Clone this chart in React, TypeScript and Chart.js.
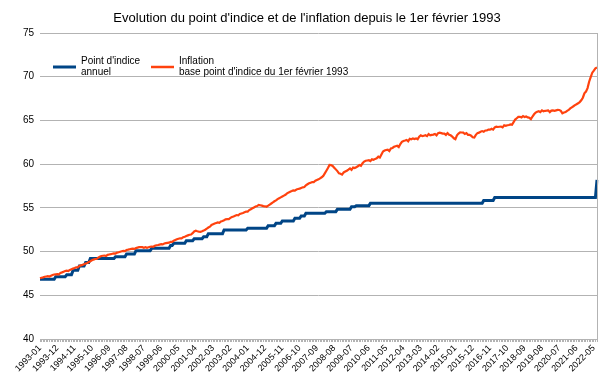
import React, { useEffect, useRef } from "react";
import { Chart, registerables } from "chart.js";

Chart.register(...registerables);

const TITLE = "Evolution du point d'indice et de l'inflation depuis le 1er février 1993";
const SERIES_POINT = ["Point d'indice", "annuel"];
const SERIES_INFL = ["Inflation", "base point d'indice du 1er février 1993"];

const FIRST_YEAR = 1993;
const MONTH_COUNT = 355; // 1993-01 .. 2022-07
const LABEL_STEP = 11;

const Y_TICKS = [40, 45, 50, 55, 60, 65, 70, 75];

// Point d'indice annuel: value changes (month, value)
const pointChangeMonths = [
  "1993-01", "1993-11", "1994-06", "1994-10", "1995-02", "1995-06", "1995-09",
  "1997-01", "1997-08", "1998-02", "1998-12", "1999-12", "2000-02", "2000-10",
  "2001-03", "2001-09", "2001-12", "2002-10", "2004-01", "2005-02", "2005-07",
  "2005-11", "2006-07", "2006-11", "2007-02", "2008-03", "2008-10", "2009-07",
  "2009-10", "2010-07", "2016-07", "2017-02", "2022-07",
];
const pointChangeValues = [
  46.83, 47.13, 47.35, 47.85, 48.35, 48.75, 49.2,
  49.41, 49.72, 50.1, 50.37, 50.7, 50.95, 51.24,
  51.47, 51.7, 52.05, 52.47, 52.66, 52.96, 53.23,
  53.5, 53.8, 54.07, 54.38, 54.56, 54.83, 55.13,
  55.25, 55.52, 55.85, 56.18, 58.19,
];

// Inflation (base point d'indice du 1er février 1993), monthly
const inflation = [
  46.94, 47.0, 47.05, 47.12, 47.15, 47.18, 47.15, 47.24, 47.32, 47.38, 47.4, 47.42, // 1993
  47.4, 47.55, 47.62, 47.7, 47.78, 47.81, 47.78, 47.9, 47.98, 48.05, 48.12, 48.2, // 1994
  48.2, 48.35, 48.42, 48.48, 48.55, 48.63, 48.7, 48.8, 48.9, 49.0, 49.08, 49.15, // 1995
  49.15, 49.3, 49.4, 49.49, 49.52, 49.55, 49.5, 49.62, 49.66, 49.7, 49.75, 49.8, // 1996
  49.78, 49.88, 49.92, 49.98, 50.03, 50.08, 50.05, 50.18, 50.22, 50.27, 50.3, 50.33, // 1997
  50.3, 50.4, 50.45, 50.5, 50.52, 50.5, 50.44, 50.5, 50.44, 50.5, 50.55, 50.58, // 1998
  50.55, 50.66, 50.72, 50.75, 50.8, 50.84, 50.82, 50.92, 50.96, 51.0, 51.02, 51.1, // 1999
  51.1, 51.24, 51.32, 51.4, 51.46, 51.52, 51.5, 51.64, 51.7, 51.78, 51.85, 51.92, // 2000
  51.95, 52.1, 52.3, 52.38, 52.32, 52.28, 52.25, 52.32, 52.4, 52.5, 52.62, 52.75, // 2001
  52.85, 53.04, 53.12, 53.2, 53.27, 53.33, 53.3, 53.45, 53.5, 53.58, 53.69, 53.72, // 2002
  53.72, 53.85, 53.95, 54.02, 54.1, 54.18, 54.15, 54.3, 54.36, 54.42, 54.5, 54.58, // 2003
  54.58, 54.75, 54.85, 54.95, 55.05, 55.15, 55.2, 55.33, 55.3, 55.25, 55.2, 55.18, // 2004
  55.13, 55.25, 55.38, 55.5, 55.62, 55.75, 55.85, 56.0, 56.1, 56.2, 56.3, 56.4, // 2005
  56.5, 56.66, 56.75, 56.85, 56.92, 57.0, 56.98, 57.1, 57.15, 57.2, 57.28, 57.35, // 2006
  57.38, 57.58, 57.7, 57.81, 57.88, 57.95, 57.95, 58.1, 58.18, 58.26, 58.38, 58.5, // 2007
  58.65, 58.95, 59.25, 59.55, 59.9, 59.88, 59.8, 59.6, 59.4, 59.2, 58.95, 58.9, // 2008
  58.8, 59.05, 59.15, 59.25, 59.38, 59.52, 59.35, 59.6, 59.55, 59.65, 59.75, 59.9, // 2009
  59.8, 60.1, 60.3, 60.39, 60.42, 60.45, 60.35, 60.55, 60.5, 60.6, 60.66, 60.85, // 2010
  60.75, 61.1, 61.45, 61.55, 61.62, 61.65, 61.5, 61.8, 61.85, 61.98, 62.05, 62.1, // 2011
  61.95, 62.3, 62.55, 62.65, 62.7, 62.76, 62.6, 62.9, 62.85, 62.95, 62.88, 62.95, // 2012
  62.85, 63.15, 63.3, 63.2, 63.25, 63.3, 63.2, 63.45, 63.3, 63.35, 63.38, 63.45, // 2013
  63.3, 63.55, 63.6, 63.55, 63.5, 63.5, 63.35, 63.55, 63.35, 63.3, 63.15, 62.96, // 2014
  62.85, 63.3, 63.5, 63.64, 63.62, 63.6, 63.45, 63.55, 63.35, 63.35, 63.25, 63.07, // 2015
  63.05, 63.35, 63.55, 63.6, 63.71, 63.78, 63.7, 63.85, 63.85, 63.95, 63.95, 64.05, // 2016
  63.95, 64.2, 64.28, 64.25, 64.28, 64.3, 64.2, 64.45, 64.38, 64.45, 64.48, 64.55, // 2017
  64.5, 64.8, 65.1, 65.25, 65.4, 65.42, 65.35, 65.5, 65.38, 65.45, 65.35, 65.3, // 2018
  65.15, 65.45, 65.7, 65.9, 66.0, 66.05, 65.95, 66.15, 66.05, 66.1, 66.12, 66.15, // 2019
  65.95, 66.12, 66.15, 66.1, 66.15, 66.2, 66.19, 66.1, 65.81, 65.9, 65.95, 66.1, // 2020
  66.2, 66.38, 66.5, 66.62, 66.75, 66.85, 66.96, 67.1, 67.3, 67.6, 68.1, 68.3, // 2021
  68.7, 69.43, 69.95, 70.46, 70.7, 70.96, 71.05, // 2022
];

const BLUE = "#004586";
const ORANGE = "#ff420e";
const GRID = "#b3b3b3";
const FONT = "'Liberation Sans', Arial, sans-serif";

const months: string[] = [];
for (let i = 0; i < MONTH_COUNT; i++) {
  const y = FIRST_YEAR + Math.floor(i / 12);
  const m = (i % 12) + 1;
  months.push(`${y}-${m < 10 ? "0" + m : m}`);
}

// carry each point value forward until the next change
const pointSeries: number[] = months.map((mo) => {
  let v = pointChangeValues[0];
  for (let k = 0; k < pointChangeMonths.length; k++) {
    if (pointChangeMonths[k] <= mo) v = pointChangeValues[k];
  }
  return v;
});

const decorPlugin = {
  id: "decor",
  afterDraw(chart: any) {
    const { ctx, chartArea, width } = chart;
    ctx.save();
    // right border of the plot area
    ctx.strokeStyle = GRID;
    ctx.lineWidth = 1;
    ctx.beginPath();
    ctx.moveTo(Math.round(chartArea.right) + 0.5, chartArea.top);
    ctx.lineTo(Math.round(chartArea.right) + 0.5, chartArea.bottom);
    ctx.stroke();

    // title, centred on the whole picture
    ctx.fillStyle = "#000";
    ctx.font = `13px ${FONT}`;
    ctx.textAlign = "center";
    ctx.textBaseline = "middle";
    ctx.fillText(TITLE, width / 2, 18);

    // legend
    ctx.font = `10px ${FONT}`;
    ctx.textAlign = "left";
    const items = [
      { color: BLUE, width: 3, x: 53, lines: SERIES_POINT },
      { color: ORANGE, width: 2.5, x: 151, lines: SERIES_INFL },
    ];
    for (const it of items) {
      ctx.strokeStyle = it.color;
      ctx.lineWidth = it.width;
      ctx.beginPath();
      ctx.moveTo(it.x, 67);
      ctx.lineTo(it.x + 23, 67);
      ctx.stroke();
      ctx.fillText(it.lines[0], it.x + 28, 61);
      ctx.fillText(it.lines[1], it.x + 28, 72);
    }
    ctx.restore();
  },
};

export default function App() {
  const ref = useRef<HTMLCanvasElement | null>(null);
  useEffect(() => {
    if (!ref.current) return;
    const chart = new Chart(ref.current, {
      type: "line",
      data: {
        labels: months,
        datasets: [
          {
            label: SERIES_INFL.join(" "),
            data: inflation,
            borderColor: ORANGE,
            backgroundColor: ORANGE,
            borderWidth: 2.2,
            pointRadius: 0,
            tension: 0,
            order: 0,
          },
          {
            label: SERIES_POINT.join(" "),
            data: pointSeries,
            borderColor: BLUE,
            backgroundColor: BLUE,
            borderWidth: 3,
            pointRadius: 0,
            tension: 0,
            order: 1,
          },
        ],
      },
      options: {
        responsive: false,
        animation: false,
        layout: { padding: { left: 0, right: 17, top: 33, bottom: 0 } },
        plugins: {
          legend: { display: false },
          tooltip: { enabled: false },
          title: { display: false },
        },
        scales: {
          x: {
            type: "category",
            offset: false,
            grid: {
              display: true,
              drawOnChartArea: false,
              drawTicks: true,
              tickLength: 3,
              color: GRID,
            },
            border: { display: false },
            ticks: {
              autoSkip: false,
              maxRotation: 45,
              minRotation: 45,
              padding: 1,
              color: "#000",
              font: { family: FONT, size: 9 },
              callback: (_v: any, i: number) => (i % LABEL_STEP === 0 ? months[i] : ""),
            },
            afterFit: (s: any) => {
              s.height = 49;
            },
          },
          y: {
            min: 40,
            max: 75,
            afterBuildTicks: (s: any) => {
              s.ticks = Y_TICKS.map((v) => ({ value: v }));
            },
            grid: { color: GRID, drawTicks: false, lineWidth: 1 },
            border: { display: false },
            ticks: {
              padding: 6,
              color: "#000",
              font: { family: FONT, size: 10 },
            },
            afterFit: (s: any) => {
              s.width = 40;
            },
          },
        },
      },
      plugins: [decorPlugin],
    });
    return () => chart.destroy();
  }, []);

  return (
    <div style={{ position: "absolute", left: 0, top: 0, width: 614, height: 388, background: "#fff" }}>
      <canvas ref={ref} width={614} height={388} style={{ display: "block" }} />
    </div>
  );
}
